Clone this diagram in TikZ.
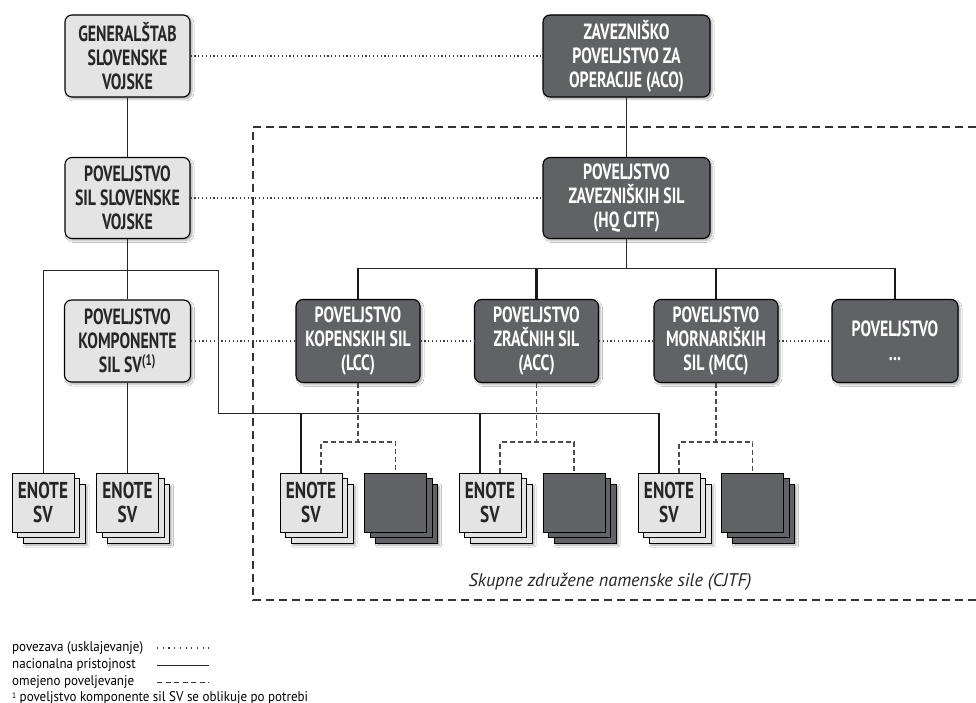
\documentclass[tikz,border=0pt]{standalone}
\usepackage{fontspec}
\setmainfont{PT Sans}
\newfontfamily\boxfont[FakeStretch=0.72]{PT Sans Bold}
\newfontfamily\unitfont[FakeStretch=0.75]{PT Sans Bold}
\newfontfamily\legfont[FakeStretch=0.93]{PT Sans}
\newfontfamily\labfont{PT Sans}
\usetikzlibrary{shadows.blur,calc}
\definecolor{lightbox}{HTML}{E4E4E4}
\definecolor{darkbox}{HTML}{616265}
\newcommand\unitstack[5]{%
  \node[#4, blur shadow={shadow xshift=2pt, shadow yshift=-2pt, shadow blur radius=2pt, shadow opacity=35}] at ({#2+11},{#3+11}) {};
  \node[#4] at ({#2+5.5},{#3+5.5}) {};
  \node[#4] (#1) at (#2,#3) {#5};
}
\begin{document}
\begin{tikzpicture}[x=1pt,y=-1pt,
  shad/.style={blur shadow={shadow xshift=2pt, shadow yshift=-2pt, shadow blur radius=2pt, shadow opacity=35}},
  lbox/.style={draw=black, line width=1.1pt, fill=lightbox, rounded corners=7pt, align=center,
    inner sep=0pt, font=\boxfont\fontsize{22}{24}\selectfont, text=black!85, shad},
  dbox/.style={lbox, fill=darkbox, text=white},
  ubox/.style={draw=black, line width=1pt, fill=lightbox, minimum width=62pt, minimum height=59pt,
    inner sep=0pt, align=center, text=black!85, font=\unitfont\fontsize{23}{23.5}\selectfont},
  dubox/.style={ubox, fill=darkbox},
  solidl/.style={draw=black!85, line width=1pt},
  thickl/.style={draw=black!90, line width=2.2pt},
  dotl/.style={draw=black!75, line width=1.1pt, dash pattern=on 1.2pt off 2.6pt},
  omej/.style={draw=black!70, line width=1.1pt, dash pattern=on 5pt off 3pt},
  frame/.style={draw=black!80, line width=1.1pt, dash pattern=on 8pt off 5pt},
  legend/.style={inner sep=0pt, font=\legfont\fontsize{14}{15}\selectfont}
]
\useasboundingbox (0,0) rectangle (976,703);
\fill[white] (0,0) rectangle (976,703);

% CJTF frame
\draw[frame] (976,127) -- (253,127) -- (253,600) -- (976,600);

% top level
\node[lbox, minimum width=125pt, minimum height=82pt] (gen) at (127.5,56) {GENERALŠTAB\\SLOVENSKE\\VOJSKE};
\node[dbox, minimum width=167pt, minimum height=82pt] (aco) at (626.5,56) {ZAVEZNIŠKO\\POVELJSTVO ZA\\OPERACIJE (ACO)};
\node[lbox, minimum width=125pt, minimum height=81pt] (svpov) at (127.5,198) {POVELJSTVO\\SIL SLOVENSKE\\VOJSKE};
\node[dbox, minimum width=167pt, minimum height=81pt] (hq) at (626.5,198) {POVELJSTVO\\ZAVEZNIŠKIH SIL\\(HQ CJTF)};

% component level
\node[lbox, minimum width=126pt, minimum height=82pt] (komp) at (127.5,341) {POVELJSTVO\\KOMPONENTE\\SIL SV\textsuperscript{(1)}};
\node[dbox, minimum width=124pt, minimum height=83pt] (lcc) at (358,341) {POVELJSTVO\\KOPENSKIH SIL\\(LCC)};
\node[dbox, minimum width=124pt, minimum height=83pt] (acc) at (536.5,341) {POVELJSTVO\\ZRAČNIH SIL\\(ACC)};
\node[dbox, minimum width=124pt, minimum height=83pt] (mcc) at (716,341) {POVELJSTVO\\MORNARIŠKIH\\SIL (MCC)};
\node[dbox, minimum width=126pt, minimum height=83pt] (pox) at (895,341) {POVELJSTVO\\...};

% units
\unitstack{e1}{43}{502.5}{ubox}{ENOTE\\SV}
\unitstack{e2}{127.5}{502.5}{ubox}{ENOTE\\SV}
\unitstack{e3}{311}{502.5}{ubox}{ENOTE\\SV}
\unitstack{d3}{395.5}{502.5}{dubox}{}
\unitstack{e4}{490}{502.5}{ubox}{ENOTE\\SV}
\unitstack{d4}{574}{502.5}{dubox}{}
\unitstack{e5}{669}{502.5}{ubox}{ENOTE\\SV}
\unitstack{d5}{752.5}{502.5}{dubox}{}

\node[font=\labfont\itshape\fontsize{18.3}{20}\selectfont, text=black!85, inner sep=0pt] (cjtf) at (610,582) {Skupne združene namenske sile (CJTF)};

% national lines
\draw[solidl] (gen) -- (svpov);
\draw[solidl] (aco) -- (hq);
\draw[solidl] (svpov) -- (komp);
\draw[solidl] (komp) -- (e2);

\coordinate (hqbus) at (626.5,268);
\draw[solidl] (hq.south) -- (hq.south |- hqbus);
\draw[solidl] (lcc.north |- hqbus) -- (pox.north |- hqbus);
\foreach \n in {lcc,acc,mcc,pox} {\draw[thickl] (\n.north |- hqbus) -- (\n.north);}

\coordinate (lbusR) at (218,270);
\coordinate (lowbusL) at (218,413);
\coordinate (e3in) at ($(e3.north)+(-10,0)$);
\coordinate (e4in) at ($(e4.north)+(-10,0)$);
\coordinate (e5in) at ($(e5.north)+(-10,0)$);
\draw[solidl] (e1.north) |- (lbusR) -- (lowbusL) -- (lowbusL -| e5in);
\draw[thickl] (e3in |- lowbusL) -- (e3in);
\draw[thickl] (e4in |- lowbusL) -- (e4in);
\draw[line width=1.6pt, black!90] (e5in |- lowbusL) -- (e5in);

% coordination (dotted)
\draw[dotl] (gen) -- (aco);
\draw[dotl] (svpov) -- (hq);
\draw[dotl] (komp) -- (lcc);
\draw[dotl] (lcc) -- (acc);
\draw[dotl] (acc) -- (mcc);
\draw[dotl] (mcc) -- (pox);

% limited command (dashed)
\coordinate (cmdy) at (0,442);
\coordinate (e3cmd) at ($(e3.north)+(10,0)$);
\coordinate (e4cmd) at ($(e4.north)+(10,0)$);
\coordinate (e5cmd) at ($(e5.north)+(10,0)$);
\draw[omej] (lcc.south) -- (lcc.south |- cmdy);
\draw[omej] (e3cmd) |- (d3.north |- cmdy) -- (d3.north);
\draw[omej] (acc.south) -- (acc.south |- cmdy);
\draw[omej] (e4cmd) |- (d4.north |- cmdy) -- (d4.north);
\draw[omej] (mcc.south) -- (mcc.south |- cmdy);
\draw[omej] (e5cmd) |- (d5.north |- cmdy) -- (d5.north);

% legend
\node[legend, anchor=base west] (lg1) at (12,651) {povezava (usklajevanje)};
\node[legend, anchor=base west] (lg2) at (12,668) {nacionalna pristojnost};
\node[legend, anchor=base west] (lg3) at (12,685) {omejeno poveljevanje};
\node[legend, anchor=base west] (lg4) at (12,701) {\raisebox{3pt}{\fontsize{8}{8}\selectfont 1} poveljstvo komponente sil SV se oblikuje po potrebi};
\coordinate (k1a) at (157,648); \coordinate (k1b) at (209,648);
\coordinate (k2a) at (157,665); \coordinate (k2b) at (209,665);
\coordinate (k3a) at (157,682); \coordinate (k3b) at (209,682);
\draw[draw=black!75, line width=1.2pt, dash pattern=on 1.2pt off 4.5pt] (k1a) -- (k1b);
\draw[solidl] (k2a) -- (k2b);
\draw[black!80, line width=1pt, dash pattern=on 5pt off 3.5pt] (k3a) -- (k3b);
\end{tikzpicture}
\end{document}
